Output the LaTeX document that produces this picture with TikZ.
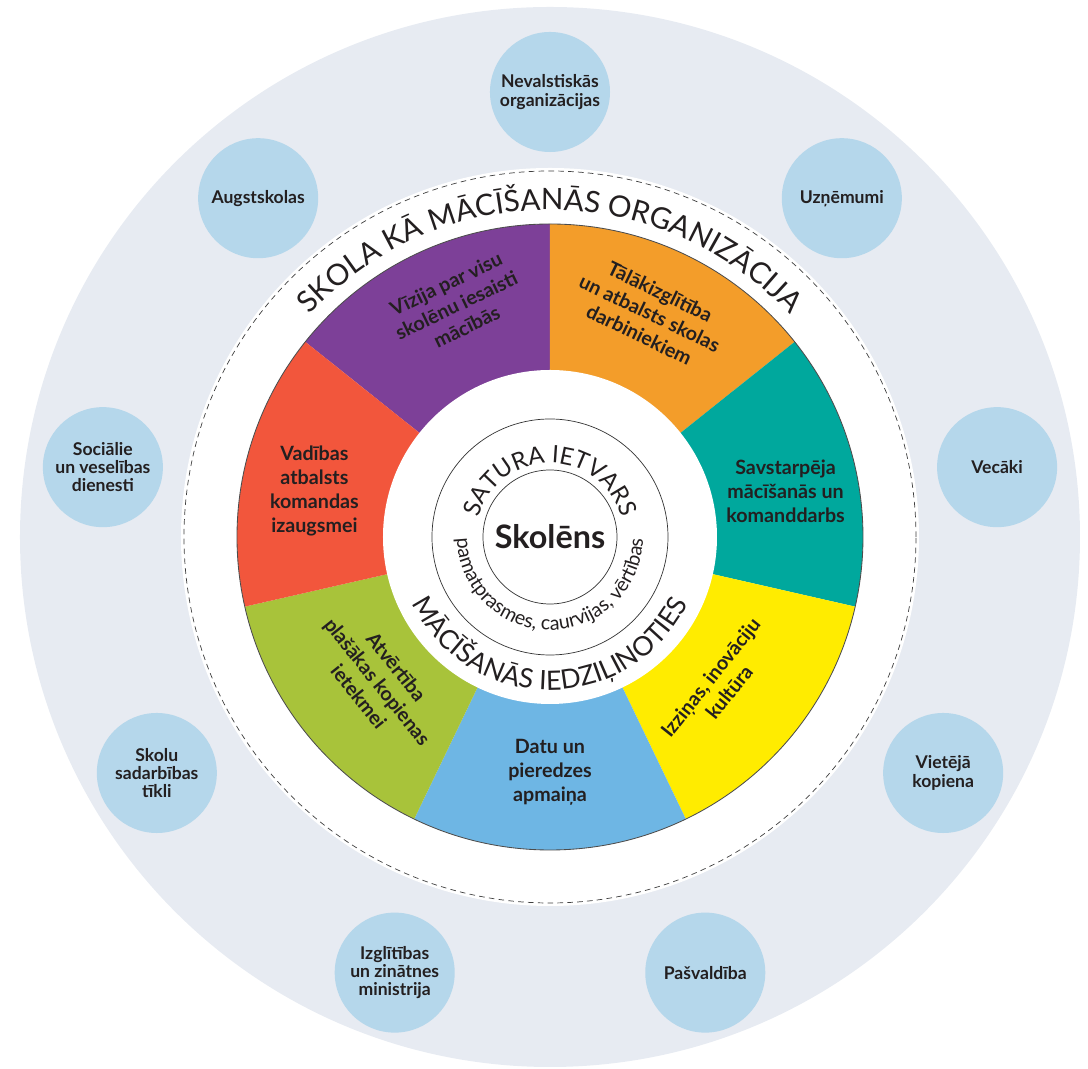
\documentclass[tikz,border=0pt]{standalone}
\usepackage{fontspec}
\setmainfont{Lato}
\usepackage{xcolor}
\usetikzlibrary{decorations.text}

\definecolor{outerbg}{RGB}{231,235,242}
\definecolor{partnerbg}{RGB}{181,215,235}
\definecolor{inkdark}{RGB}{35,31,32}
\definecolor{vizija}{RGB}{125,64,152}
\definecolor{talak}{RGB}{243,157,42}
\definecolor{savst}{RGB}{0,168,157}
\definecolor{izzinas}{RGB}{255,236,0}
\definecolor{datu}{RGB}{110,182,228}
\definecolor{atvert}{RGB}{168,195,58}
\definecolor{vadibas}{RGB}{242,86,60}

\tikzset{
  partner/.style={circle, fill=partnerbg, minimum size=3cm, inner sep=0pt,
    align=center, text=inkdark, font=\bfseries\fontsize{12.5}{13}\selectfont},
  seglabel/.style={align=center, text=inkdark, inner sep=0pt,
    font=\bfseries\fontsize{14}{17}\selectfont}
}

\begin{document}
\begin{tikzpicture}[x=0.025cm,y=0.025cm]
	\useasboundingbox (-550,-532) rectangle (538,537);

	% draw the light outer disc and the white disc inside the dashed ring
	\fill[outerbg] (0,0) circle (530);
	\fill[white] (0,0) circle (369);
	\draw[black!75, line width=0.5pt, dash pattern=on 4pt off 3pt] (0,0) circle (366);

	% draw the seven coloured sectors of the wheel
	\foreach \col [count=\i from 0] in {vizija,talak,savst,izzinas,datu,atvert,vadibas}
		\fill[\col] (0,0) -- ({141.4286-\i*51.4286}:313)
			arc[start angle={141.4286-\i*51.4286}, delta angle=-51.4286, radius=313] -- cycle;
	\draw[black!70, line width=0.6pt] (0,0) circle (313);

	% draw the white hub and its two rings
	\fill[white] (0,0) circle (167);
	\draw[black!80, line width=0.5pt] (0,0) circle (118);
	\draw[black!80, line width=0.5pt] (0,0) circle (67);

	% texts along the rings
	\path[decorate, decoration={text along path, text align=center,
		text={|\color{inkdark}\fontsize{21}{21}\selectfont|SKOLA KĀ MĀCĪŠANĀS ORGANIZĀCIJA}}]
		(170:327) arc[start angle=170, end angle=10, radius=327];
	\path[decorate, decoration={text along path, text align=center,
		text={|\color{inkdark}\fontsize{17}{17}\selectfont|SATURA IETVARS}}]
		(175:74) arc[start angle=175, end angle=5, radius=74];
	\path[decorate, decoration={text along path, text align=center,
		text={|\color{inkdark}\fontsize{14}{14}\selectfont|pamatprasmes, caurvijas, vērtības}}]
		(182:93) arc[start angle=182, end angle=358, radius=93];
	\path[decorate, decoration={text along path, text align=center,
		text={|\color{inkdark}\fontsize{19}{19}\selectfont|MĀCĪŠANĀS IEDZIĻINOTIES}}]
		(185:153) arc[start angle=185, end angle=355, radius=153];

	% the pupil in the middle
	\node[text=inkdark, font=\bfseries\fontsize{23}{23}\selectfont] (pupil) at (0,0) {Skolēns};

	% labels of the sectors
	\node[seglabel, rotate=25.7] (vision) at (112:250) {Vīzija par visu\\skolēnu iesaisti\\mācībās};
	\node[seglabel, rotate=-25.7] (training) at (66:245) {Tālākizglītība\\un atbalsts skolas\\darbiniekiem};
	\node[seglabel] (peers) at (11:240) {Savstarpēja\\mācīšanās un\\komanddarbs};
	\node[seglabel, rotate=51.4] (inquiry) at (-41:225) {Izziņas, inovāciju\\kultūra};
	\node[seglabel] (data) at (-90:235) {Datu un\\pieredzes\\apmaiņa};
	\node[seglabel, rotate=-51.4] (openness) at (-140:225) {Atvērtība\\plašākas kopienas\\ietekmei};
	\node[seglabel] (leadership) at (169:240) {Vadības\\atbalsts\\komandas\\izaugsmei};

	% the partners around the school
	\coordinate (orbit) at (0,-9);
	\node[partner] (ngo) at ([shift={(90:454)}]orbit) {Nevalstiskās\\organizācijas};
	\node[partner] (business) at ([shift={(50:454)}]orbit) {Uzņēmumi};
	\node[partner] (parents) at ([shift={(10:454)}]orbit) {Vecāki};
	\node[partner] (community) at ([shift={(-30:454)}]orbit) {Vietējā\\kopiena};
	\node[partner] (municipality) at ([shift={(-70:454)}]orbit) {Pašvaldība};
	\node[partner] (ministry) at ([shift={(-110:454)}]orbit) {Izglītības\\un zinātnes\\ministrija};
	\node[partner] (networks) at ([shift={(-150:454)}]orbit) {Skolu\\sadarbības\\tīkli};
	\node[partner] (services) at ([shift={(170:454)}]orbit) {Sociālie\\un veselības\\dienesti};
	\node[partner] (universities) at ([shift={(130:454)}]orbit) {Augstskolas};
\end{tikzpicture}
\end{document}
